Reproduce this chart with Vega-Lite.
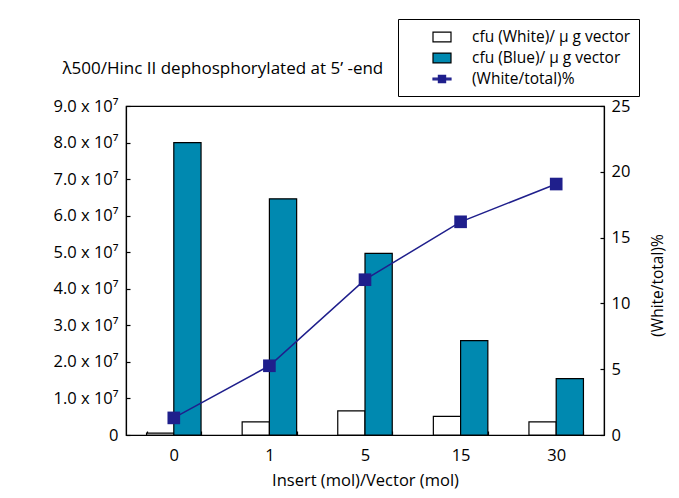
{
  "$schema": "https://vega.github.io/schema/vega-lite/v6.json",
  "width": 478,
  "height": 329,
  "autosize": {"type": "none"},
  "padding": {"left": 126, "top": 106, "right": 75, "bottom": 63},
  "background": "white",
  "config": {
    "font": "Open Sans",
    "view": {"stroke": "black", "strokeWidth": 1.2},
    "axis": {
      "domainColor": "black", "domainWidth": 1.2, "tickColor": "black", "tickWidth": 1.2,
      "labelColor": "black", "titleColor": "black",
      "labelFontSize": 16.5, "titleFontSize": 16.5, "titleFontWeight": "normal",
      "labelFont": "Open Sans", "titleFont": "Open Sans", "grid": false
    }
  },
  "datasets": {
    "bars": [
      {"ratio": "0", "series": "cfu (White)/ μ g vector", "value": 500000},
      {"ratio": "0", "series": "cfu (Blue)/ μ g vector", "value": 80000000},
      {"ratio": "1", "series": "cfu (White)/ μ g vector", "value": 3600000},
      {"ratio": "1", "series": "cfu (Blue)/ μ g vector", "value": 64600000},
      {"ratio": "5", "series": "cfu (White)/ μ g vector", "value": 6600000},
      {"ratio": "5", "series": "cfu (Blue)/ μ g vector", "value": 49700000},
      {"ratio": "15", "series": "cfu (White)/ μ g vector", "value": 5100000},
      {"ratio": "15", "series": "cfu (Blue)/ μ g vector", "value": 25800000},
      {"ratio": "30", "series": "cfu (White)/ μ g vector", "value": 3600000},
      {"ratio": "30", "series": "cfu (Blue)/ μ g vector", "value": 15400000}
    ],
    "line": [
      {"ratio": "0", "series": "(White/total)%", "pct": 1.3},
      {"ratio": "1", "series": "(White/total)%", "pct": 5.26},
      {"ratio": "5", "series": "(White/total)%", "pct": 11.8},
      {"ratio": "15", "series": "(White/total)%", "pct": 16.2},
      {"ratio": "30", "series": "(White/total)%", "pct": 19.07}
    ]
  },
  "layer": [
    {
      "data": {"name": "bars"},
      "mark": {"type": "bar", "strokeWidth": 1.2},
      "encoding": {
        "x": {
          "field": "ratio", "type": "nominal", "sort": ["0", "1", "5", "15", "30"],
          "scale": {"paddingInner": 0.43, "paddingOuter": 0.215},
          "axis": {"title": "Insert (mol)/Vector (mol)", "labelAngle": 0, "tickBand": "extent", "tickSize": -4, "labelPadding": 16, "titlePadding": 9}
        },
        "xOffset": {
          "field": "series", "type": "nominal",
          "sort": ["cfu (White)/ μ g vector", "cfu (Blue)/ μ g vector"],
          "scale": {"paddingInner": 0, "paddingOuter": 0}
        },
        "y": {
          "field": "value", "type": "quantitative",
          "scale": {"domain": [0, 90000000], "nice": false},
          "axis": {
            "title": "λ500/Hinc  II dephosphorylated at 5’  -end",
            "titleAngle": 0, "titleX": -64, "titleY": -38, "titleAlign": "left", "titleBaseline": "middle", "titleFontSize": 17,
            "values": [0, 10000000, 20000000, 30000000, 40000000, 50000000, 60000000, 70000000, 80000000, 90000000],
            "labelExpr": "datum.value == 0 ? '0' : format(datum.value / 10000000, '.1f') + ' x 10⁷'",
            "tickSize": -4, "labelPadding": 12
          }
        },
        "fill": {
          "field": "series", "type": "nominal",
          "scale": {"domain": ["cfu (White)/ μ g vector", "cfu (Blue)/ μ g vector", "(White/total)%"], "range": ["white", "#0089b0", "#1f1f8c"]},
          "legend": {"title": null, "orient": "none", "legendX": 272, "legendY": -87, "strokeColor": "black", "padding": 8, "symbolOffset": 26, "labelOffset": 20, "rowPadding": 2, "labelFontSize": 15.5, "labelFont": "Open Sans", "labelColor": "black", "symbolSize": 324, "symbolStrokeWidth": 1.2, "fillColor": "white", "symbolOpacity": 1}
        },
        "stroke": {
          "field": "series", "type": "nominal",
          "scale": {"domain": ["cfu (White)/ μ g vector", "cfu (Blue)/ μ g vector", "(White/total)%"], "range": ["black", "black", "#1f1f8c"]},
          "legend": {"title": null, "orient": "none", "legendX": 272, "legendY": -87, "strokeColor": "black", "padding": 8, "symbolOffset": 26, "labelOffset": 20, "rowPadding": 2, "labelFontSize": 15.5, "labelFont": "Open Sans", "labelColor": "black", "symbolSize": 324, "symbolStrokeWidth": 1.2, "fillColor": "white", "symbolOpacity": 1}
        }
      }
    },
    {
      "data": {"name": "line"},
      "encoding": {
        "x": {"field": "ratio", "type": "nominal", "sort": ["0", "1", "5", "15", "30"]},
        "y": {
          "field": "pct", "type": "quantitative",
          "scale": {"domain": [0, 25], "nice": false},
          "axis": {"orient": "right", "title": "(White/total)%", "values": [0, 5, 10, 15, 20, 25], "tickSize": -4, "labelPadding": 11, "titleAngle": -90, "titleX": 53, "titleY": 179, "titleAlign": "center", "titleBaseline": "middle", "titleFontSize": 15.5}
        }
      },
      "layer": [
        {
          "mark": {"type": "line", "strokeWidth": 1.5},
          "encoding": {"stroke": {"field": "series", "type": "nominal"}}
        },
        {
          "mark": {"type": "point", "shape": "square", "filled": true, "size": 160, "opacity": 1, "strokeWidth": 0.5},
          "encoding": {"fill": {"field": "series", "type": "nominal"}}
        },
        {
          "transform": [{"filter": "false"}],
          "mark": {"type": "point", "filled": true, "opacity": 1},
          "encoding": {
            "shape": {
              "field": "series", "type": "nominal",
              "scale": {"domain": ["cfu (White)/ μ g vector", "cfu (Blue)/ μ g vector", "(White/total)%"], "range": ["M-1,-0.55L1,-0.55L1,0.55L-1,0.55Z", "M-1,-0.55L1,-0.55L1,0.55L-1,0.55Z", "M-1,-0.09L1,-0.09L1,0.09L-1,0.09Z M-0.4,-0.4L0.4,-0.4L0.4,0.4L-0.4,0.4Z"]},
              "legend": {"title": null, "orient": "none", "legendX": 272, "legendY": -87, "strokeColor": "black", "padding": 8, "symbolOffset": 26, "labelOffset": 20, "rowPadding": 2, "labelFontSize": 15.5, "labelFont": "Open Sans", "labelColor": "black", "symbolSize": 324, "symbolStrokeWidth": 1.2, "fillColor": "white", "symbolOpacity": 1}
            }
          }
        }
      ]
    }
  ],
  "resolve": {"scale": {"y": "independent"}}
}
